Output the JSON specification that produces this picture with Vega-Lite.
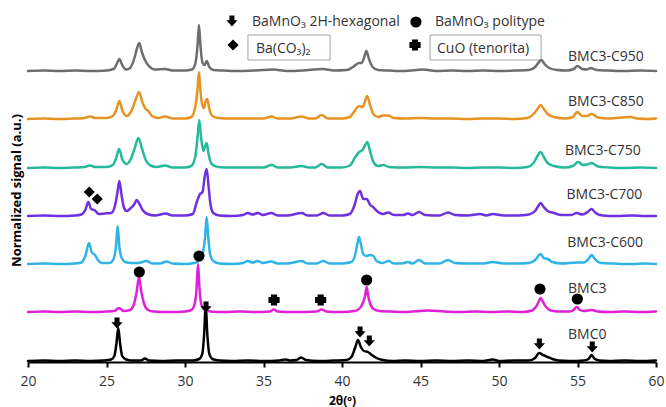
{
  "$schema": "https://vega.github.io/schema/vega-lite/v6.json",
  "width": 628,
  "height": 360,
  "autosize": "none",
  "padding": {"left": 28, "top": 2, "right": 10, "bottom": 45},
  "config": {"view": {"stroke": null}, "font": "Open Sans"},
  "datasets": {
    "traces": [
      {"s":"BMC0","x":20,"y":1},{"s":"BMC0","x":21,"y":1.5},{"s":"BMC0","x":22,"y":1},{"s":"BMC0","x":23,"y":1.5},{"s":"BMC0","x":24,"y":1},{"s":"BMC0","x":24.8,"y":1.5},{"s":"BMC0","x":25.3,"y":2.5},{"s":"BMC0","x":25.5,"y":6},{"s":"BMC0","x":25.63,"y":18},{"s":"BMC0","x":25.75,"y":34},{"s":"BMC0","x":25.87,"y":18},{"s":"BMC0","x":26.0,"y":6},{"s":"BMC0","x":26.25,"y":2.5},{"s":"BMC0","x":26.6,"y":1.5},{"s":"BMC0","x":27.2,"y":1.5},{"s":"BMC0","x":27.45,"y":3.5},{"s":"BMC0","x":27.7,"y":1.5},{"s":"BMC0","x":28.5,"y":1},{"s":"BMC0","x":29.5,"y":1.5},{"s":"BMC0","x":30.5,"y":1.5},{"s":"BMC0","x":30.9,"y":3},{"s":"BMC0","x":31.1,"y":8},{"s":"BMC0","x":31.22,"y":28},{"s":"BMC0","x":31.32,"y":57},{"s":"BMC0","x":31.42,"y":28},{"s":"BMC0","x":31.55,"y":8},{"s":"BMC0","x":31.75,"y":3},{"s":"BMC0","x":32.2,"y":1.5},{"s":"BMC0","x":33,"y":1},{"s":"BMC0","x":34,"y":1.5},{"s":"BMC0","x":35,"y":1},{"s":"BMC0","x":36,"y":1.5},{"s":"BMC0","x":36.4,"y":2.5},{"s":"BMC0","x":36.7,"y":1.5},{"s":"BMC0","x":37.1,"y":2},{"s":"BMC0","x":37.4,"y":4.5},{"s":"BMC0","x":37.7,"y":2},{"s":"BMC0","x":38.5,"y":1},{"s":"BMC0","x":39.5,"y":1.5},{"s":"BMC0","x":40.3,"y":2},{"s":"BMC0","x":40.6,"y":5},{"s":"BMC0","x":40.85,"y":15},{"s":"BMC0","x":41.02,"y":22},{"s":"BMC0","x":41.2,"y":15},{"s":"BMC0","x":41.4,"y":11},{"s":"BMC0","x":41.65,"y":10},{"s":"BMC0","x":41.9,"y":7},{"s":"BMC0","x":42.2,"y":4},{"s":"BMC0","x":42.6,"y":2},{"s":"BMC0","x":43.2,"y":1},{"s":"BMC0","x":44,"y":1.5},{"s":"BMC0","x":45,"y":1},{"s":"BMC0","x":46,"y":1.5},{"s":"BMC0","x":47,"y":1},{"s":"BMC0","x":48,"y":1.5},{"s":"BMC0","x":49,"y":1},{"s":"BMC0","x":49.6,"y":2.5},{"s":"BMC0","x":50,"y":1},{"s":"BMC0","x":51,"y":1.5},{"s":"BMC0","x":51.9,"y":1.5},{"s":"BMC0","x":52.3,"y":4},{"s":"BMC0","x":52.55,"y":9},{"s":"BMC0","x":52.8,"y":7},{"s":"BMC0","x":53.1,"y":5},{"s":"BMC0","x":53.4,"y":3},{"s":"BMC0","x":53.8,"y":1.5},{"s":"BMC0","x":54.5,"y":1},{"s":"BMC0","x":55.4,"y":1.5},{"s":"BMC0","x":55.7,"y":3},{"s":"BMC0","x":55.9,"y":7},{"s":"BMC0","x":56.1,"y":3},{"s":"BMC0","x":56.4,"y":1.5},{"s":"BMC0","x":57,"y":1},{"s":"BMC0","x":58,"y":1.5},{"s":"BMC0","x":59,"y":1},{"s":"BMC0","x":60,"y":1.5},

      {"s":"BMC3","x":20,"y":50},{"s":"BMC3","x":21,"y":50.5},{"s":"BMC3","x":22,"y":50},{"s":"BMC3","x":23,"y":50.5},{"s":"BMC3","x":24,"y":50},{"s":"BMC3","x":25,"y":50.5},{"s":"BMC3","x":25.5,"y":51},{"s":"BMC3","x":25.8,"y":54},{"s":"BMC3","x":26.1,"y":51},{"s":"BMC3","x":26.5,"y":52},{"s":"BMC3","x":26.75,"y":58},{"s":"BMC3","x":26.92,"y":70},{"s":"BMC3","x":27.07,"y":85},{"s":"BMC3","x":27.22,"y":70},{"s":"BMC3","x":27.4,"y":58},{"s":"BMC3","x":27.65,"y":52},{"s":"BMC3","x":28,"y":50.5},{"s":"BMC3","x":29,"y":50},{"s":"BMC3","x":30,"y":50.5},{"s":"BMC3","x":30.4,"y":52},{"s":"BMC3","x":30.6,"y":57},{"s":"BMC3","x":30.73,"y":72},{"s":"BMC3","x":30.83,"y":98},{"s":"BMC3","x":30.93,"y":72},{"s":"BMC3","x":31.05,"y":57},{"s":"BMC3","x":31.25,"y":52},{"s":"BMC3","x":31.6,"y":50.5},{"s":"BMC3","x":32.5,"y":50},{"s":"BMC3","x":33.5,"y":50.5},{"s":"BMC3","x":34.5,"y":50},{"s":"BMC3","x":35.4,"y":50.5},{"s":"BMC3","x":35.67,"y":52.5},{"s":"BMC3","x":35.9,"y":50.5},{"s":"BMC3","x":37,"y":50},{"s":"BMC3","x":38.4,"y":50.5},{"s":"BMC3","x":38.7,"y":52.5},{"s":"BMC3","x":39,"y":50.5},{"s":"BMC3","x":40,"y":50},{"s":"BMC3","x":40.8,"y":51},{"s":"BMC3","x":41.15,"y":54},{"s":"BMC3","x":41.35,"y":60},{"s":"BMC3","x":41.47,"y":66},{"s":"BMC3","x":41.57,"y":75},{"s":"BMC3","x":41.67,"y":66},{"s":"BMC3","x":41.8,"y":58},{"s":"BMC3","x":42.0,"y":53},{"s":"BMC3","x":42.4,"y":51},{"s":"BMC3","x":43,"y":50.5},{"s":"BMC3","x":44,"y":50},{"s":"BMC3","x":45.5,"y":51.5},{"s":"BMC3","x":46.5,"y":50.5},{"s":"BMC3","x":47.5,"y":50},{"s":"BMC3","x":48.5,"y":50.5},{"s":"BMC3","x":49.5,"y":50},{"s":"BMC3","x":50.5,"y":50.5},{"s":"BMC3","x":51.5,"y":50},{"s":"BMC3","x":52.1,"y":51.5},{"s":"BMC3","x":52.35,"y":55},{"s":"BMC3","x":52.52,"y":60},{"s":"BMC3","x":52.65,"y":64},{"s":"BMC3","x":52.8,"y":60},{"s":"BMC3","x":53.0,"y":55},{"s":"BMC3","x":53.3,"y":51.5},{"s":"BMC3","x":53.8,"y":50.5},{"s":"BMC3","x":54.5,"y":50.5},{"s":"BMC3","x":54.75,"y":52},{"s":"BMC3","x":54.95,"y":55},{"s":"BMC3","x":55.15,"y":52},{"s":"BMC3","x":55.4,"y":51},{"s":"BMC3","x":55.9,"y":52},{"s":"BMC3","x":56.3,"y":50.5},{"s":"BMC3","x":57,"y":50},{"s":"BMC3","x":58,"y":50.5},{"s":"BMC3","x":59,"y":50},{"s":"BMC3","x":60,"y":50.5},

      {"s":"BMC3-C600","x":20,"y":98},{"s":"BMC3-C600","x":21,"y":98.5},{"s":"BMC3-C600","x":22,"y":98},{"s":"BMC3-C600","x":23,"y":98.5},{"s":"BMC3-C600","x":23.4,"y":99.5},{"s":"BMC3-C600","x":23.65,"y":106},{"s":"BMC3-C600","x":23.89,"y":119},{"s":"BMC3-C600","x":24.05,"y":110},{"s":"BMC3-C600","x":24.27,"y":107},{"s":"BMC3-C600","x":24.45,"y":102},{"s":"BMC3-C600","x":24.7,"y":99},{"s":"BMC3-C600","x":25.2,"y":99},{"s":"BMC3-C600","x":25.45,"y":103},{"s":"BMC3-C600","x":25.6,"y":115},{"s":"BMC3-C600","x":25.71,"y":136},{"s":"BMC3-C600","x":25.82,"y":115},{"s":"BMC3-C600","x":25.97,"y":104},{"s":"BMC3-C600","x":26.2,"y":100},{"s":"BMC3-C600","x":26.6,"y":99},{"s":"BMC3-C600","x":27.0,"y":99},{"s":"BMC3-C600","x":27.56,"y":101},{"s":"BMC3-C600","x":27.9,"y":98.5},{"s":"BMC3-C600","x":28.4,"y":98.5},{"s":"BMC3-C600","x":28.83,"y":100.5},{"s":"BMC3-C600","x":29.2,"y":98.5},{"s":"BMC3-C600","x":30,"y":98},{"s":"BMC3-C600","x":30.6,"y":99},{"s":"BMC3-C600","x":30.95,"y":102},{"s":"BMC3-C600","x":31.15,"y":110},{"s":"BMC3-C600","x":31.28,"y":125},{"s":"BMC3-C600","x":31.38,"y":145},{"s":"BMC3-C600","x":31.48,"y":125},{"s":"BMC3-C600","x":31.6,"y":108},{"s":"BMC3-C600","x":31.8,"y":101},{"s":"BMC3-C600","x":32.2,"y":98.5},{"s":"BMC3-C600","x":33,"y":98},{"s":"BMC3-C600","x":33.7,"y":99},{"s":"BMC3-C600","x":34.0,"y":101},{"s":"BMC3-C600","x":34.3,"y":99.5},{"s":"BMC3-C600","x":34.65,"y":101},{"s":"BMC3-C600","x":34.95,"y":99},{"s":"BMC3-C600","x":35.5,"y":100.5},{"s":"BMC3-C600","x":35.9,"y":98.5},{"s":"BMC3-C600","x":36.5,"y":98.5},{"s":"BMC3-C600","x":37.43,"y":101},{"s":"BMC3-C600","x":37.8,"y":98.5},{"s":"BMC3-C600","x":38.4,"y":98.5},{"s":"BMC3-C600","x":38.8,"y":101},{"s":"BMC3-C600","x":39.2,"y":98.5},{"s":"BMC3-C600","x":40.0,"y":98.5},{"s":"BMC3-C600","x":40.6,"y":100},{"s":"BMC3-C600","x":40.85,"y":108},{"s":"BMC3-C600","x":41.0,"y":120},{"s":"BMC3-C600","x":41.08,"y":125},{"s":"BMC3-C600","x":41.2,"y":118},{"s":"BMC3-C600","x":41.35,"y":108},{"s":"BMC3-C600","x":41.55,"y":106},{"s":"BMC3-C600","x":41.78,"y":107},{"s":"BMC3-C600","x":42.0,"y":106},{"s":"BMC3-C600","x":42.2,"y":101},{"s":"BMC3-C600","x":42.6,"y":99},{"s":"BMC3-C600","x":42.95,"y":101},{"s":"BMC3-C600","x":43.3,"y":98.5},{"s":"BMC3-C600","x":43.8,"y":98.5},{"s":"BMC3-C600","x":44.2,"y":100},{"s":"BMC3-C600","x":44.5,"y":98.5},{"s":"BMC3-C600","x":44.9,"y":102},{"s":"BMC3-C600","x":45.3,"y":98.5},{"s":"BMC3-C600","x":46.2,"y":98.5},{"s":"BMC3-C600","x":46.75,"y":102},{"s":"BMC3-C600","x":47.2,"y":99},{"s":"BMC3-C600","x":48,"y":98.5},{"s":"BMC3-C600","x":49,"y":98.5},{"s":"BMC3-C600","x":49.6,"y":100},{"s":"BMC3-C600","x":50.3,"y":98.5},{"s":"BMC3-C600","x":51.2,"y":98.5},{"s":"BMC3-C600","x":51.9,"y":99},{"s":"BMC3-C600","x":52.3,"y":102},{"s":"BMC3-C600","x":52.65,"y":108},{"s":"BMC3-C600","x":52.85,"y":104},{"s":"BMC3-C600","x":53.1,"y":103},{"s":"BMC3-C600","x":53.4,"y":100},{"s":"BMC3-C600","x":54,"y":98.5},{"s":"BMC3-C600","x":54.95,"y":99.5},{"s":"BMC3-C600","x":55.4,"y":99.5},{"s":"BMC3-C600","x":55.7,"y":103},{"s":"BMC3-C600","x":55.9,"y":107},{"s":"BMC3-C600","x":56.1,"y":103},{"s":"BMC3-C600","x":56.5,"y":99},{"s":"BMC3-C600","x":57.3,"y":98.5},{"s":"BMC3-C600","x":58.5,"y":98},{"s":"BMC3-C600","x":59.3,"y":98.5},{"s":"BMC3-C600","x":60,"y":98},

      {"s":"BMC3-C700","x":20,"y":146},{"s":"BMC3-C700","x":21,"y":146.5},{"s":"BMC3-C700","x":22,"y":146},{"s":"BMC3-C700","x":23,"y":146.5},{"s":"BMC3-C700","x":23.4,"y":147.5},{"s":"BMC3-C700","x":23.65,"y":152},{"s":"BMC3-C700","x":23.84,"y":160},{"s":"BMC3-C700","x":24.02,"y":153},{"s":"BMC3-C700","x":24.27,"y":151.5},{"s":"BMC3-C700","x":24.5,"y":148},{"s":"BMC3-C700","x":24.9,"y":148.5},{"s":"BMC3-C700","x":25.3,"y":149},{"s":"BMC3-C700","x":25.55,"y":157},{"s":"BMC3-C700","x":25.7,"y":170},{"s":"BMC3-C700","x":25.82,"y":181},{"s":"BMC3-C700","x":25.95,"y":168},{"s":"BMC3-C700","x":26.1,"y":155},{"s":"BMC3-C700","x":26.28,"y":151},{"s":"BMC3-C700","x":26.55,"y":154},{"s":"BMC3-C700","x":26.78,"y":158},{"s":"BMC3-C700","x":26.92,"y":162},{"s":"BMC3-C700","x":27.1,"y":158},{"s":"BMC3-C700","x":27.3,"y":152},{"s":"BMC3-C700","x":27.6,"y":148},{"s":"BMC3-C700","x":28.1,"y":146.5},{"s":"BMC3-C700","x":28.77,"y":148.5},{"s":"BMC3-C700","x":29.2,"y":146.5},{"s":"BMC3-C700","x":30,"y":146.5},{"s":"BMC3-C700","x":30.5,"y":148},{"s":"BMC3-C700","x":30.75,"y":160},{"s":"BMC3-C700","x":30.96,"y":168},{"s":"BMC3-C700","x":31.12,"y":170},{"s":"BMC3-C700","x":31.25,"y":185},{"s":"BMC3-C700","x":31.38,"y":193},{"s":"BMC3-C700","x":31.5,"y":176},{"s":"BMC3-C700","x":31.62,"y":158},{"s":"BMC3-C700","x":31.8,"y":149},{"s":"BMC3-C700","x":32.2,"y":146.5},{"s":"BMC3-C700","x":33,"y":146},{"s":"BMC3-C700","x":33.7,"y":147},{"s":"BMC3-C700","x":34.0,"y":149},{"s":"BMC3-C700","x":34.3,"y":147.5},{"s":"BMC3-C700","x":34.65,"y":149},{"s":"BMC3-C700","x":34.95,"y":147},{"s":"BMC3-C700","x":35.5,"y":149},{"s":"BMC3-C700","x":35.9,"y":146.5},{"s":"BMC3-C700","x":36.5,"y":146.5},{"s":"BMC3-C700","x":37.43,"y":149},{"s":"BMC3-C700","x":37.8,"y":146.5},{"s":"BMC3-C700","x":38.4,"y":146.5},{"s":"BMC3-C700","x":38.8,"y":149},{"s":"BMC3-C700","x":39.2,"y":146.5},{"s":"BMC3-C700","x":40.0,"y":146.5},{"s":"BMC3-C700","x":40.5,"y":148},{"s":"BMC3-C700","x":40.8,"y":157},{"s":"BMC3-C700","x":41.0,"y":168},{"s":"BMC3-C700","x":41.15,"y":171},{"s":"BMC3-C700","x":41.35,"y":163},{"s":"BMC3-C700","x":41.57,"y":163},{"s":"BMC3-C700","x":41.8,"y":157},{"s":"BMC3-C700","x":41.97,"y":155},{"s":"BMC3-C700","x":42.3,"y":150},{"s":"BMC3-C700","x":42.6,"y":148},{"s":"BMC3-C700","x":42.95,"y":149.5},{"s":"BMC3-C700","x":43.3,"y":147},{"s":"BMC3-C700","x":43.9,"y":147},{"s":"BMC3-C700","x":44.2,"y":148.5},{"s":"BMC3-C700","x":44.5,"y":147},{"s":"BMC3-C700","x":44.9,"y":150},{"s":"BMC3-C700","x":45.3,"y":147},{"s":"BMC3-C700","x":46.2,"y":146.5},{"s":"BMC3-C700","x":46.75,"y":149.5},{"s":"BMC3-C700","x":47.2,"y":147},{"s":"BMC3-C700","x":48,"y":146.5},{"s":"BMC3-C700","x":48.8,"y":148},{"s":"BMC3-C700","x":49.2,"y":146.5},{"s":"BMC3-C700","x":49.6,"y":148},{"s":"BMC3-C700","x":50.3,"y":146.5},{"s":"BMC3-C700","x":51.2,"y":146.5},{"s":"BMC3-C700","x":51.9,"y":147.5},{"s":"BMC3-C700","x":52.3,"y":151},{"s":"BMC3-C700","x":52.5,"y":156},{"s":"BMC3-C700","x":52.65,"y":159},{"s":"BMC3-C700","x":52.85,"y":155},{"s":"BMC3-C700","x":53.1,"y":151},{"s":"BMC3-C700","x":53.5,"y":149},{"s":"BMC3-C700","x":54,"y":147},{"s":"BMC3-C700","x":54.6,"y":147},{"s":"BMC3-C700","x":54.95,"y":149},{"s":"BMC3-C700","x":55.3,"y":147.5},{"s":"BMC3-C700","x":55.65,"y":150},{"s":"BMC3-C700","x":55.9,"y":153},{"s":"BMC3-C700","x":56.15,"y":149},{"s":"BMC3-C700","x":56.6,"y":146.5},{"s":"BMC3-C700","x":57.5,"y":146},{"s":"BMC3-C700","x":58.5,"y":146.5},{"s":"BMC3-C700","x":59.3,"y":146},{"s":"BMC3-C700","x":60,"y":146},

      {"s":"BMC3-C750","x":20,"y":194},{"s":"BMC3-C750","x":21,"y":194.5},{"s":"BMC3-C750","x":22,"y":194},{"s":"BMC3-C750","x":23,"y":194.5},{"s":"BMC3-C750","x":23.6,"y":195},{"s":"BMC3-C750","x":23.95,"y":196.5},{"s":"BMC3-C750","x":24.3,"y":195},{"s":"BMC3-C750","x":25,"y":195},{"s":"BMC3-C750","x":25.4,"y":197},{"s":"BMC3-C750","x":25.6,"y":203},{"s":"BMC3-C750","x":25.8,"y":213},{"s":"BMC3-C750","x":26.0,"y":203},{"s":"BMC3-C750","x":26.28,"y":198},{"s":"BMC3-C750","x":26.55,"y":203},{"s":"BMC3-C750","x":26.8,"y":214},{"s":"BMC3-C750","x":27.03,"y":224},{"s":"BMC3-C750","x":27.25,"y":214},{"s":"BMC3-C750","x":27.5,"y":202},{"s":"BMC3-C750","x":27.8,"y":196.5},{"s":"BMC3-C750","x":28.2,"y":195},{"s":"BMC3-C750","x":28.73,"y":196.5},{"s":"BMC3-C750","x":29.2,"y":194.5},{"s":"BMC3-C750","x":30,"y":194.5},{"s":"BMC3-C750","x":30.4,"y":196},{"s":"BMC3-C750","x":30.65,"y":205},{"s":"BMC3-C750","x":30.8,"y":225},{"s":"BMC3-C750","x":30.91,"y":242},{"s":"BMC3-C750","x":31.02,"y":225},{"s":"BMC3-C750","x":31.17,"y":211},{"s":"BMC3-C750","x":31.28,"y":216},{"s":"BMC3-C750","x":31.38,"y":219},{"s":"BMC3-C750","x":31.5,"y":208},{"s":"BMC3-C750","x":31.7,"y":198},{"s":"BMC3-C750","x":32.1,"y":195},{"s":"BMC3-C750","x":33,"y":194.5},{"s":"BMC3-C750","x":34,"y":194.5},{"s":"BMC3-C750","x":35,"y":194.5},{"s":"BMC3-C750","x":35.52,"y":197},{"s":"BMC3-C750","x":35.9,"y":194.5},{"s":"BMC3-C750","x":36.7,"y":194.5},{"s":"BMC3-C750","x":37.43,"y":196},{"s":"BMC3-C750","x":37.9,"y":194.5},{"s":"BMC3-C750","x":38.3,"y":194.5},{"s":"BMC3-C750","x":38.7,"y":198},{"s":"BMC3-C750","x":39.1,"y":194.5},{"s":"BMC3-C750","x":40,"y":194.5},{"s":"BMC3-C750","x":40.5,"y":196.5},{"s":"BMC3-C750","x":40.85,"y":205},{"s":"BMC3-C750","x":41.1,"y":210},{"s":"BMC3-C750","x":41.3,"y":212},{"s":"BMC3-C750","x":41.45,"y":216},{"s":"BMC3-C750","x":41.61,"y":220},{"s":"BMC3-C750","x":41.8,"y":210},{"s":"BMC3-C750","x":42.0,"y":200},{"s":"BMC3-C750","x":42.3,"y":196},{"s":"BMC3-C750","x":42.63,"y":197},{"s":"BMC3-C750","x":43,"y":195},{"s":"BMC3-C750","x":44,"y":194.5},{"s":"BMC3-C750","x":45,"y":195},{"s":"BMC3-C750","x":46,"y":194.5},{"s":"BMC3-C750","x":47,"y":194.5},{"s":"BMC3-C750","x":48,"y":194},{"s":"BMC3-C750","x":49,"y":194.5},{"s":"BMC3-C750","x":50,"y":194.5},{"s":"BMC3-C750","x":51,"y":194},{"s":"BMC3-C750","x":51.8,"y":195},{"s":"BMC3-C750","x":52.2,"y":199},{"s":"BMC3-C750","x":52.45,"y":206},{"s":"BMC3-C750","x":52.65,"y":210},{"s":"BMC3-C750","x":52.85,"y":205},{"s":"BMC3-C750","x":53.1,"y":199},{"s":"BMC3-C750","x":53.5,"y":196},{"s":"BMC3-C750","x":54.2,"y":194.5},{"s":"BMC3-C750","x":54.7,"y":196},{"s":"BMC3-C750","x":55.05,"y":200},{"s":"BMC3-C750","x":55.35,"y":197},{"s":"BMC3-C750","x":55.6,"y":197.5},{"s":"BMC3-C750","x":55.9,"y":199},{"s":"BMC3-C750","x":56.3,"y":195.5},{"s":"BMC3-C750","x":57,"y":194.5},{"s":"BMC3-C750","x":58,"y":194},{"s":"BMC3-C750","x":59,"y":194.5},{"s":"BMC3-C750","x":60,"y":194},

      {"s":"BMC3-C850","x":20,"y":243},{"s":"BMC3-C850","x":21,"y":243.5},{"s":"BMC3-C850","x":22,"y":243},{"s":"BMC3-C850","x":23,"y":243.5},{"s":"BMC3-C850","x":23.6,"y":244},{"s":"BMC3-C850","x":23.95,"y":245.5},{"s":"BMC3-C850","x":24.3,"y":244},{"s":"BMC3-C850","x":25,"y":244},{"s":"BMC3-C850","x":25.4,"y":246},{"s":"BMC3-C850","x":25.62,"y":252},{"s":"BMC3-C850","x":25.82,"y":261},{"s":"BMC3-C850","x":26.0,"y":252},{"s":"BMC3-C850","x":26.28,"y":246},{"s":"BMC3-C850","x":26.55,"y":250},{"s":"BMC3-C850","x":26.85,"y":262},{"s":"BMC3-C850","x":27.07,"y":270},{"s":"BMC3-C850","x":27.28,"y":260},{"s":"BMC3-C850","x":27.5,"y":253},{"s":"BMC3-C850","x":27.66,"y":251},{"s":"BMC3-C850","x":27.9,"y":246},{"s":"BMC3-C850","x":28.3,"y":244},{"s":"BMC3-C850","x":28.73,"y":245.5},{"s":"BMC3-C850","x":29.2,"y":243.5},{"s":"BMC3-C850","x":30,"y":243.5},{"s":"BMC3-C850","x":30.4,"y":245},{"s":"BMC3-C850","x":30.65,"y":255},{"s":"BMC3-C850","x":30.79,"y":272},{"s":"BMC3-C850","x":30.89,"y":290},{"s":"BMC3-C850","x":30.99,"y":270},{"s":"BMC3-C850","x":31.12,"y":256},{"s":"BMC3-C850","x":31.22,"y":254},{"s":"BMC3-C850","x":31.32,"y":261},{"s":"BMC3-C850","x":31.42,"y":263},{"s":"BMC3-C850","x":31.55,"y":253},{"s":"BMC3-C850","x":31.75,"y":246},{"s":"BMC3-C850","x":32.1,"y":244},{"s":"BMC3-C850","x":33,"y":243.5},{"s":"BMC3-C850","x":34,"y":243.5},{"s":"BMC3-C850","x":35,"y":243.5},{"s":"BMC3-C850","x":35.52,"y":245.5},{"s":"BMC3-C850","x":35.9,"y":243.5},{"s":"BMC3-C850","x":36.7,"y":243.5},{"s":"BMC3-C850","x":37.43,"y":245.5},{"s":"BMC3-C850","x":37.9,"y":243.5},{"s":"BMC3-C850","x":38.3,"y":243.5},{"s":"BMC3-C850","x":38.7,"y":247},{"s":"BMC3-C850","x":39.1,"y":243.5},{"s":"BMC3-C850","x":40,"y":243.5},{"s":"BMC3-C850","x":40.5,"y":245},{"s":"BMC3-C850","x":40.8,"y":251},{"s":"BMC3-C850","x":41.1,"y":256},{"s":"BMC3-C850","x":41.3,"y":255},{"s":"BMC3-C850","x":41.45,"y":260},{"s":"BMC3-C850","x":41.61,"y":266},{"s":"BMC3-C850","x":41.8,"y":256},{"s":"BMC3-C850","x":42.0,"y":248},{"s":"BMC3-C850","x":42.3,"y":245},{"s":"BMC3-C850","x":42.6,"y":246.5},{"s":"BMC3-C850","x":42.95,"y":246.5},{"s":"BMC3-C850","x":43.3,"y":244},{"s":"BMC3-C850","x":44,"y":243.5},{"s":"BMC3-C850","x":45,"y":244},{"s":"BMC3-C850","x":46,"y":243.5},{"s":"BMC3-C850","x":47,"y":243.5},{"s":"BMC3-C850","x":48,"y":243},{"s":"BMC3-C850","x":49,"y":243.5},{"s":"BMC3-C850","x":50,"y":243.5},{"s":"BMC3-C850","x":51,"y":243},{"s":"BMC3-C850","x":51.8,"y":244},{"s":"BMC3-C850","x":52.2,"y":248},{"s":"BMC3-C850","x":52.45,"y":253},{"s":"BMC3-C850","x":52.65,"y":257},{"s":"BMC3-C850","x":52.85,"y":253},{"s":"BMC3-C850","x":53.1,"y":248},{"s":"BMC3-C850","x":53.5,"y":245},{"s":"BMC3-C850","x":54.2,"y":243.5},{"s":"BMC3-C850","x":54.7,"y":245},{"s":"BMC3-C850","x":54.99,"y":250},{"s":"BMC3-C850","x":55.3,"y":246},{"s":"BMC3-C850","x":55.6,"y":246},{"s":"BMC3-C850","x":55.9,"y":248},{"s":"BMC3-C850","x":56.3,"y":244.5},{"s":"BMC3-C850","x":57,"y":243.5},{"s":"BMC3-C850","x":58.35,"y":245},{"s":"BMC3-C850","x":58.8,"y":243.5},{"s":"BMC3-C850","x":59.5,"y":243},{"s":"BMC3-C850","x":60,"y":243.5},

      {"s":"BMC3-C950","x":20,"y":291},{"s":"BMC3-C950","x":21,"y":291.5},{"s":"BMC3-C950","x":22,"y":291},{"s":"BMC3-C950","x":23,"y":291.5},{"s":"BMC3-C950","x":24,"y":291},{"s":"BMC3-C950","x":25,"y":291.5},{"s":"BMC3-C950","x":25.45,"y":293},{"s":"BMC3-C950","x":25.65,"y":298},{"s":"BMC3-C950","x":25.82,"y":303},{"s":"BMC3-C950","x":26.0,"y":297},{"s":"BMC3-C950","x":26.25,"y":292.5},{"s":"BMC3-C950","x":26.5,"y":294},{"s":"BMC3-C950","x":26.8,"y":305},{"s":"BMC3-C950","x":26.95,"y":314},{"s":"BMC3-C950","x":27.09,"y":319},{"s":"BMC3-C950","x":27.25,"y":310},{"s":"BMC3-C950","x":27.45,"y":302},{"s":"BMC3-C950","x":27.7,"y":296},{"s":"BMC3-C950","x":28.1,"y":292.5},{"s":"BMC3-C950","x":28.73,"y":293},{"s":"BMC3-C950","x":29.2,"y":291.5},{"s":"BMC3-C950","x":30,"y":291.5},{"s":"BMC3-C950","x":30.45,"y":292.5},{"s":"BMC3-C950","x":30.65,"y":298},{"s":"BMC3-C950","x":30.79,"y":315},{"s":"BMC3-C950","x":30.89,"y":337},{"s":"BMC3-C950","x":30.99,"y":315},{"s":"BMC3-C950","x":31.12,"y":299},{"s":"BMC3-C950","x":31.25,"y":297},{"s":"BMC3-C950","x":31.38,"y":301},{"s":"BMC3-C950","x":31.55,"y":295},{"s":"BMC3-C950","x":31.8,"y":292},{"s":"BMC3-C950","x":32.5,"y":291.5},{"s":"BMC3-C950","x":33.5,"y":291},{"s":"BMC3-C950","x":34.5,"y":291.5},{"s":"BMC3-C950","x":35.62,"y":292.5},{"s":"BMC3-C950","x":36.5,"y":291},{"s":"BMC3-C950","x":37.5,"y":291.5},{"s":"BMC3-C950","x":38.77,"y":293},{"s":"BMC3-C950","x":39.5,"y":291.5},{"s":"BMC3-C950","x":40.3,"y":292},{"s":"BMC3-C950","x":40.7,"y":295},{"s":"BMC3-C950","x":41.08,"y":299},{"s":"BMC3-C950","x":41.25,"y":299},{"s":"BMC3-C950","x":41.4,"y":304},{"s":"BMC3-C950","x":41.55,"y":311},{"s":"BMC3-C950","x":41.72,"y":303},{"s":"BMC3-C950","x":41.95,"y":295},{"s":"BMC3-C950","x":42.3,"y":292},{"s":"BMC3-C950","x":43,"y":291.5},{"s":"BMC3-C950","x":44,"y":291},{"s":"BMC3-C950","x":45.16,"y":292.5},{"s":"BMC3-C950","x":46,"y":291},{"s":"BMC3-C950","x":47,"y":291.5},{"s":"BMC3-C950","x":48,"y":291},{"s":"BMC3-C950","x":49,"y":291.5},{"s":"BMC3-C950","x":50,"y":291},{"s":"BMC3-C950","x":51,"y":291.5},{"s":"BMC3-C950","x":51.9,"y":292},{"s":"BMC3-C950","x":52.3,"y":295},{"s":"BMC3-C950","x":52.55,"y":300},{"s":"BMC3-C950","x":52.7,"y":302},{"s":"BMC3-C950","x":52.9,"y":298},{"s":"BMC3-C950","x":53.2,"y":294},{"s":"BMC3-C950","x":53.7,"y":292},{"s":"BMC3-C950","x":54.3,"y":291.5},{"s":"BMC3-C950","x":54.75,"y":293},{"s":"BMC3-C950","x":55.0,"y":296},{"s":"BMC3-C950","x":55.3,"y":293},{"s":"BMC3-C950","x":55.6,"y":292.5},{"s":"BMC3-C950","x":55.85,"y":294},{"s":"BMC3-C950","x":56.2,"y":292},{"s":"BMC3-C950","x":57,"y":291.5},{"s":"BMC3-C950","x":58,"y":291},{"s":"BMC3-C950","x":59,"y":291.5},{"s":"BMC3-C950","x":60,"y":291}
    ],
    "markers": [
      {"kind":"hex","x":25.67,"y":39},{"kind":"hex","x":31.34,"y":55},{"kind":"hex","x":41.15,"y":30},{"kind":"hex","x":41.74,"y":21},{"kind":"hex","x":52.57,"y":18},{"kind":"hex","x":55.94,"y":15},
      {"kind":"poly","x":27.09,"y":90},{"kind":"poly","x":30.89,"y":106},{"kind":"poly","x":41.57,"y":82},{"kind":"poly","x":52.61,"y":73},{"kind":"poly","x":54.99,"y":63},
      {"kind":"carb","x":23.9,"y":170},{"kind":"carb","x":24.41,"y":163},
      {"kind":"cuo","x":35.67,"y":62},{"kind":"cuo","x":38.64,"y":62},
      {"kind":"hex","x":32.99,"y":341},{"kind":"poly","x":44.71,"y":340},{"kind":"carb","x":33.06,"y":317},{"kind":"cuo","x":44.65,"y":317}
    ],
    "labels": [
      {"t":"BMC3-C950","x":54.4,"y":305},{"t":"BMC3-C850","x":54.4,"y":260},{"t":"BMC3-C750","x":54.2,"y":211},{"t":"BMC3-C700","x":54.3,"y":167},{"t":"BMC3-C600","x":54.35,"y":119},{"t":"BMC3","x":54.4,"y":73},{"t":"BMC0","x":54.4,"y":27},
      {"t":"BaMnO₃ 2H-hexagonal","x":34.27,"y":340},{"t":"BaMnO₃ politype","x":45.92,"y":340},{"t":"Ba(CO₃)₂","x":34.52,"y":313},{"t":"CuO (tenorita)","x":46.05,"y":313}
    ],
    "boxes": [
      {"x":34.01,"x2":39.24,"y":302,"y2":327},
      {"x":45.61,"x2":52.68,"y":302,"y2":327}
    ]
  },
  "layer": [
    {
      "data": {"name": "boxes"},
      "mark": {"type": "rect", "fill": "white", "fillOpacity": 0, "stroke": "#a0a0a0", "strokeWidth": 1},
      "encoding": {
        "x": {"field": "x", "type": "quantitative", "scale": {"domain": [20, 60], "nice": false, "zero": false},
          "axis": {"values": [20,25,30,35,40,45,50,55,60], "format": "d", "title": "2θ(º)", "grid": false,
            "domainColor": "#000", "domainWidth": 2, "tickColor": "#000", "tickWidth": 2, "tickSize": 5,
            "labelFontSize": 14, "labelColor": "#333", "labelPadding": 7, "labelFlush": false,
            "titleFontSize": 12, "titleFontWeight": "bold", "titleColor": "#000", "titlePadding": 7}},
        "x2": {"field": "x2"},
        "y": {"field": "y", "type": "quantitative", "scale": {"domain": [0, 360], "nice": false, "zero": false},
          "axis": {"domain": false, "ticks": false, "labels": false, "grid": false,
            "title": "Normalized signal (a.u.)", "titleFontSize": 13, "titleFontWeight": "bold", "titleColor": "#000",
            "titleX": -12, "titleY": 188, "titleAngle": -90, "titleBaseline": "middle", "titleAlign": "center"}},
        "y2": {"field": "y2"}
      }
    },
    {
      "data": {"name": "traces"},
      "mark": {"type": "line", "interpolate": "monotone", "strokeWidth": 2.5, "strokeJoin": "round", "strokeCap": "round"},
      "encoding": {
        "x": {"field": "x", "type": "quantitative"},
        "y": {"field": "y", "type": "quantitative"},
        "color": {"field": "s", "type": "nominal", "legend": null,
          "scale": {"domain": ["BMC0","BMC3","BMC3-C600","BMC3-C700","BMC3-C750","BMC3-C850","BMC3-C950"],
                    "range": ["#000000","#e020d8","#30b4e8","#7030e0","#26b99a","#e69322","#6d6d6d"]}}
      }
    },
    {
      "data": {"name": "markers"},
      "mark": {"type": "point", "filled": true, "color": "#000", "opacity": 1, "size": 125},
      "encoding": {
        "x": {"field": "x", "type": "quantitative"},
        "y": {"field": "y", "type": "quantitative"},
        "shape": {"field": "kind", "type": "nominal", "legend": null,
          "scale": {"domain": ["hex","poly","carb","cuo"],
                    "range": ["M-0.45,-1L0.45,-1L0.45,-0.15L1,-0.15L0,1L-1,-0.15L-0.45,-0.15Z", "circle", "diamond",
                              "M-0.55,-1L0.55,-1L0.55,-0.55L1,-0.55L1,0.55L0.55,0.55L0.55,1L-0.55,1L-0.55,0.55L-1,0.55L-1,-0.55L-0.55,-0.55Z"]}}
      }
    },
    {
      "data": {"name": "labels"},
      "mark": {"type": "text", "align": "left", "baseline": "middle", "fontSize": 14, "color": "#333", "font": "Open Sans"},
      "encoding": {
        "x": {"field": "x", "type": "quantitative"},
        "y": {"field": "y", "type": "quantitative"},
        "text": {"field": "t"}
      }
    }
  ]
}
